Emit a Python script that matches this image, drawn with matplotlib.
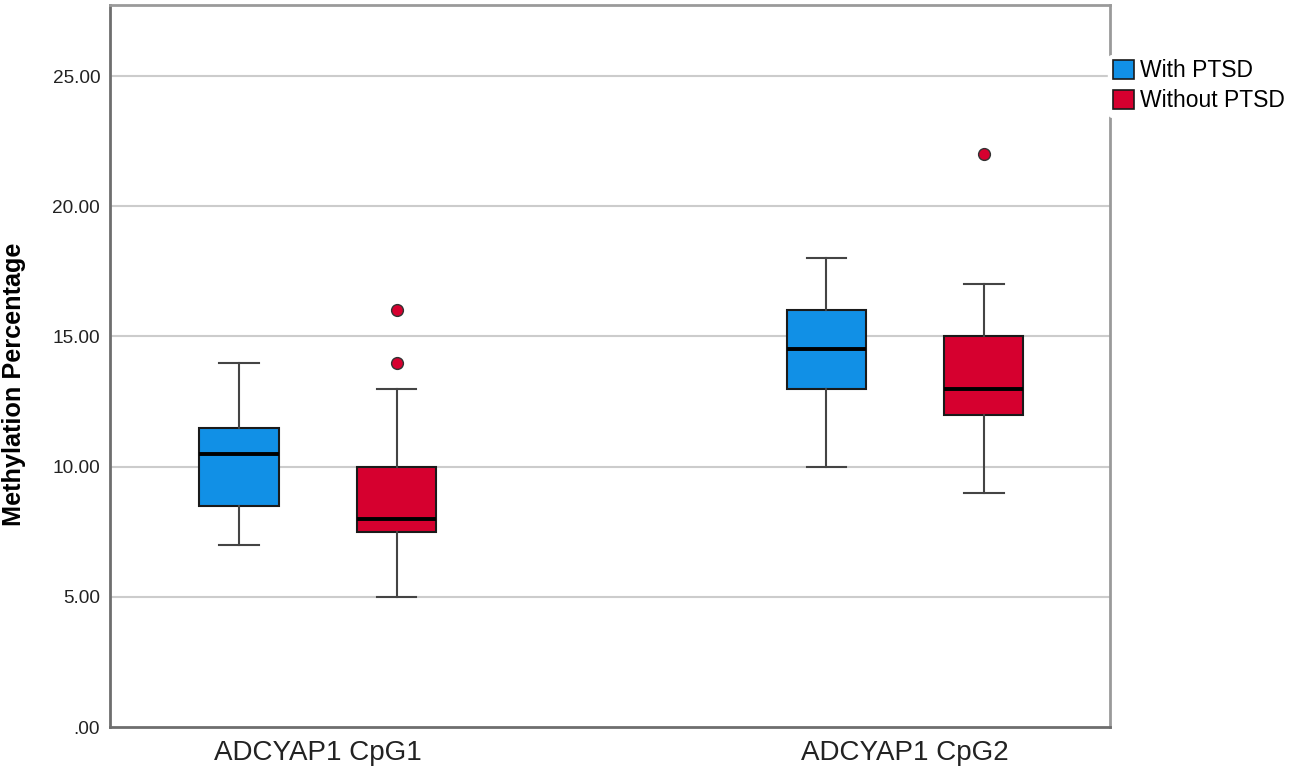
import matplotlib
matplotlib.use("Agg")
import matplotlib.pyplot as plt
from matplotlib.patches import Patch
from matplotlib.ticker import FuncFormatter

plt.rcParams['font.family'] = ['Liberation Sans', 'DejaVu Sans']

# data
sites = ["ADCYAP1 CpG1", "ADCYAP1 CpG2"]
groups = ["With PTSD", "Without PTSD"]
colors = ["#1190e6", "#d6002f"]

# per site: [with, without]
whislo = [[7.0, 5.0], [10.0, 9.0]]
q1 = [[8.5, 7.5], [13.0, 12.0]]
med = [[10.5, 8.0], [14.5, 13.0]]
q3 = [[11.5, 10.0], [16.0, 15.0]]
whishi = [[14.0, 13.0], [18.0, 17.0]]
outliers = [[[], [14.0, 16.0]], [[], [22.0]]]

yticks = [0, 5, 10, 15, 20, 25]

fig = plt.figure(figsize=(12.92, 7.73), dpi=100)
ax = fig.add_axes([0.0851, 0.0595, 0.7740, 0.934])

offset = 0.134
width = 0.135
for i in range(len(sites)):
    for j in range(len(groups)):
        stats = [{
            "whislo": whislo[i][j], "q1": q1[i][j], "med": med[i][j],
            "q3": q3[i][j], "whishi": whishi[i][j], "fliers": outliers[i][j],
        }]
        pos = i + 1 + (-offset if j == 0 else offset)
        ax.bxp(stats, positions=[pos], widths=width, patch_artist=True,
               showfliers=True, manage_ticks=False,
               boxprops=dict(facecolor=colors[j], edgecolor="#1a1a1a", linewidth=1.5),
               medianprops=dict(color="black", linewidth=2.8),
               whiskerprops=dict(color="#444444", linewidth=1.5),
               capprops=dict(color="#444444", linewidth=1.5),
               capwidths=width / 2,
               flierprops=dict(marker="o", markerfacecolor=colors[j],
                               markeredgecolor="#333333", markersize=8.5,
                               markeredgewidth=1.0),
               zorder=3)

ax.set_xlim(0.646, 2.349)
ax.set_ylim(0, 27.73)
ax.set_xticks([1, 2])
ax.set_xticklabels(sites, fontsize=20, color="#222222")
ax.set_yticks(yticks)
ax.yaxis.set_major_formatter(FuncFormatter(lambda v, p: ".00" if v == 0 else f"{v:.2f}"))
ax.tick_params(axis="y", labelsize=13.7, length=0, pad=7, colors="#222222")
ax.tick_params(axis="x", length=0, pad=9)

for y in yticks[1:]:
    ax.axhline(y, color="#cccccc", linewidth=1.5, zorder=1)

for side in ["left", "bottom"]:
    ax.spines[side].set_color("#6e6e6e")
    ax.spines[side].set_linewidth(2)
for side in ["top", "right"]:
    ax.spines[side].set_color("#9a9a9a")
    ax.spines[side].set_linewidth(2)

ax.set_ylabel("Methylation Percentage", fontsize=18.2, fontweight="bold")
ax.yaxis.set_label_coords(-0.084, 0.474)

handles = [Patch(facecolor=c, edgecolor="#1a1a1a", linewidth=1.2) for c in colors]
ax.legend(handles, groups, loc="upper left", bbox_to_anchor=(0.998, 0.931),
          frameon=True, facecolor="white", edgecolor="white", framealpha=1,
          fontsize=16.5, handlelength=0.95, handleheight=0.95, handletextpad=0.25,
          borderpad=0.2, labelspacing=0.3, borderaxespad=0)

fig.savefig("out.png", dpi=100)
